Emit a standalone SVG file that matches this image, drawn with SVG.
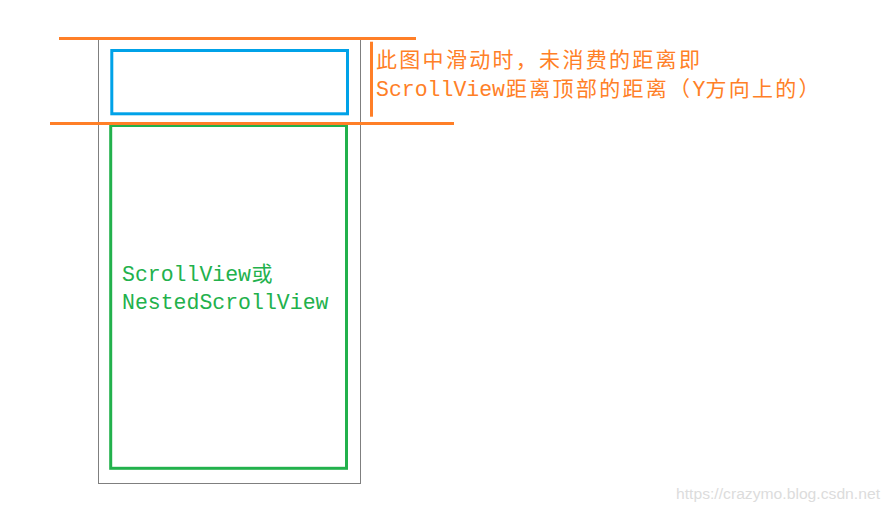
<svg xmlns="http://www.w3.org/2000/svg" width="890" height="513" viewBox="0 0 890 513">
<style>
.mono{font-family:"Liberation Mono","DejaVu Sans Mono",monospace;font-size:21.5px}
.cjk{font-family:"Noto Sans CJK SC","Noto Sans",sans-serif;font-size:21px;letter-spacing:2.3px}
.orange{fill:#FF7F27}
.green{fill:#22B14C}
.oline{stroke:#FF7F27;stroke-width:3;fill:none}
</style>
<rect width="890" height="513" fill="#ffffff"/>
<g id="screen">
<rect x="98.5" y="38.5" width="262" height="445" fill="none" stroke="#7F7F7F" stroke-width="1"/>
</g>
<g id="header-box">
<rect x="111.8" y="50.5" width="235.7" height="63.3" fill="none" stroke="#00A2E8" stroke-width="3"/>
</g>
<g id="scrollview">
<rect x="110.7" y="125.5" width="235.8" height="342.8" fill="none" stroke="#22B14C" stroke-width="3"/>
<text class="green"><tspan class="mono" x="122" y="281">ScrollView</tspan><tspan class="cjk" x="251.5" y="281">或</tspan><tspan class="mono" x="122" y="308.7">NestedScrollView</tspan></text>
</g>
<g id="connectors">
<line class="oline" x1="59" y1="38.5" x2="416" y2="38.5"/>
<line class="oline" x1="50" y1="123.5" x2="454" y2="123.5"/>
<line class="oline" x1="371.5" y1="41.7" x2="371.5" y2="116.7"/>
</g>
<g id="annotation">
<text class="orange"><tspan class="cjk" x="376" y="67">此图中滑动时，未消费的距离即</tspan><tspan class="mono" x="376" y="96">ScrollView</tspan><tspan class="cjk" x="506" y="96">距离顶部的距离（</tspan><tspan class="mono" x="692.4" y="96">Y</tspan><tspan class="cjk" x="705.4" y="96">方向上的）</tspan></text>
</g>
<g id="watermark">
<text x="676" y="499" font-family="Liberation Sans, Arial, sans-serif" font-size="14" fill="#dcdcdc" textLength="204" lengthAdjust="spacingAndGlyphs">https://crazymo.blog.csdn.net</text>
</g>
</svg>
